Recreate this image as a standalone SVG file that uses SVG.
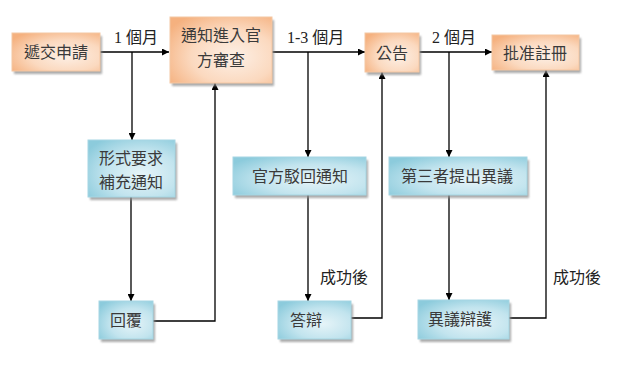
<svg xmlns="http://www.w3.org/2000/svg" width="624" height="368" viewBox="0 0 624 368">
<defs>
<radialGradient id="og" cx="0.62" cy="0.6" r="0.75">
<stop offset="0" stop-color="#fdf0e6"/>
<stop offset="0.55" stop-color="#fbd9bf"/>
<stop offset="1" stop-color="#f5b17f"/>
</radialGradient>
<radialGradient id="bg" cx="0.62" cy="0.6" r="0.75">
<stop offset="0" stop-color="#e6f4f8"/>
<stop offset="0.55" stop-color="#c2e4ee"/>
<stop offset="1" stop-color="#8ccbdc"/>
</radialGradient>
<filter id="sh" x="-10%" y="-10%" width="130%" height="140%">
<feGaussianBlur stdDeviation="0.8"/>
</filter>
<marker id="ar" viewBox="0 0 10 10" refX="10" refY="5" markerWidth="7" markerHeight="7" markerUnits="userSpaceOnUse" orient="auto">
<path d="M0,0 L10,5 L0,10 z" fill="#000"/>
</marker>
</defs>
<style>
.sh{fill:#8f8f8f;opacity:0.75;filter:url(#sh)}
.o{fill:url(#og);stroke:#f4c7a3;stroke-width:1}
.b{fill:url(#bg);stroke:#a6d6e3;stroke-width:1}
.t{font-family:"Liberation Serif","Noto Sans CJK TC",serif;font-size:16px;fill:#3a3a3a;text-anchor:middle;dominant-baseline:central}
.l{font-family:"Liberation Serif","Noto Sans CJK TC",serif;font-size:16px;fill:#222}
.c{fill:none;stroke:#000;stroke-width:1.3;marker-end:url(#ar)}
</style>
<g id="connectors">
<path class="c" d="M100,52 H169"/>
<path class="c" d="M132,52 V140"/>
<path class="c" d="M131,197 V301"/>
<path class="c" d="M153,321 H215 V83"/>
<path class="c" d="M272,52 H365"/>
<path class="c" d="M308,52 V157"/>
<path class="c" d="M308,195 V301"/>
<path class="c" d="M351,318 H382 V72"/>
<path class="c" d="M419,52 H492"/>
<path class="c" d="M449,52 V157"/>
<path class="c" d="M449,195 V300"/>
<path class="c" d="M509,318 H546 V70"/>
<text class="l" x="114" y="43">1 個月</text>
<text class="l" x="287" y="43">1-3 個月</text>
<text class="l" x="432" y="43">2 個月</text>
<text class="l" x="320" y="283">成功後</text>
<text class="l" x="553" y="283">成功後</text>
</g>
<g id="n1">
<rect class="sh" x="14" y="36" width="88" height="38"/>
<rect class="o" x="12" y="33" width="88" height="38"/>
<text class="t" x="56" y="52">遞交申請</text>
</g>
<g id="n2">
<rect class="sh" x="172" y="20" width="102" height="66"/>
<rect class="o" x="170" y="17" width="102" height="66"/>
<text class="t" x="221" y="35">通知進入官</text>
<text class="t" x="221" y="60">方審查</text>
</g>
<g id="n3">
<rect class="sh" x="367" y="36" width="54" height="39"/>
<rect class="o" x="365" y="33" width="54" height="39"/>
<text class="t" x="392" y="53">公告</text>
</g>
<g id="n4">
<rect class="sh" x="494" y="38" width="87" height="35"/>
<rect class="o" x="492" y="35" width="87" height="35"/>
<text class="t" x="535" y="53">批准註冊</text>
</g>
<g id="n5">
<rect class="sh" x="90" y="143" width="87" height="57"/>
<rect class="b" x="88" y="140" width="87" height="57"/>
<text class="t" x="131" y="158">形式要求</text>
<text class="t" x="131" y="182">補充通知</text>
</g>
<g id="n6">
<rect class="sh" x="235" y="160" width="133" height="38"/>
<rect class="b" x="233" y="157" width="133" height="38"/>
<text class="t" x="300" y="176">官方駁回通知</text>
</g>
<g id="n7">
<rect class="sh" x="391" y="160" width="138" height="38"/>
<rect class="b" x="389" y="157" width="138" height="38"/>
<text class="t" x="457" y="176">第三者提出異議</text>
</g>
<g id="n8">
<rect class="sh" x="101" y="304" width="54" height="38"/>
<rect class="b" x="99" y="301" width="54" height="38"/>
<text class="t" x="126" y="320">回覆</text>
</g>
<g id="n9">
<rect class="sh" x="280" y="304" width="73" height="38"/>
<rect class="b" x="278" y="301" width="73" height="38"/>
<text class="t" x="306" y="320">答辯</text>
</g>
<g id="n10">
<rect class="sh" x="420" y="303" width="91" height="39"/>
<rect class="b" x="418" y="300" width="91" height="39"/>
<text class="t" x="460" y="319">異議辯護</text>
</g>
</svg>
